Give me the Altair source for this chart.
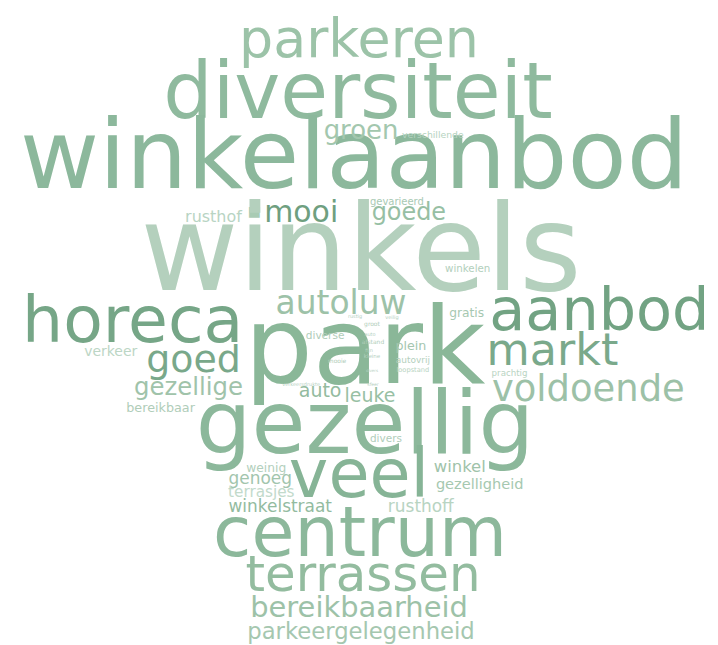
import altair as alt
import pandas as pd

words = ["parkeren", "diversiteit", "winkelaanbod", "groen", "verschillende", "rusthof", "■",
         "mooi", "gevarieerd", "goede", "winkels", "winkelen", "horeca", "autoluw", "park",
         "gratis", "aanbod", "diverse", "plein", "autovrij", "loopstand", "verkeer", "goed",
         "markt", "prachtig", "gezellige", "voldoende", "auto", "leuke", "bereikbaar",
         "gezellig", "divers", "weinig", "veel", "winkel", "genoeg", "gezelligheid",
         "terrasjes", "winkelstraat", "rusthoff", "centrum", "terrassen", "bereikbaarheid",
         "parkeergelegenheid",
         "rustig", "groot", "veilig", "auto", "afstand", "fijn", "kleine", "mooie",
         "sfeer", "verkeersdrukte", "divers"]
x_center = [360, 359, 355, 362, 434, 214, 255,
            302, 398, 410, 362, 469, 133, 342, 366,
            468, 601, 326, 412, 414, 414, 111, 194,
            554, 511, 189, 590, 321, 371, 161,
            366, 387, 267, 360, 461, 261, 481,
            262, 281, 422, 361, 364, 360,
            362,
            356, 373, 393, 371, 374, 370, 373, 338,
            374, 302, 373]
y_base = [56, 117, 188, 138, 137, 222, 216,
          222, 205, 220, 290, 272, 342, 314, 383,
          317, 330, 339, 350, 363, 372, 356, 372,
          365, 376, 395, 401, 397, 402, 412,
          453, 442, 472, 497, 472, 484, 489,
          497, 513, 513, 557, 592, 618,
          640,
          318, 326, 319, 336, 344, 352, 358, 363,
          386, 386, 372]
font_size = [54, 78, 97, 26, 9.3, 16, 14,
             30, 10, 24, 120, 10.3, 65, 33, 108,
             12.3, 59, 10.6, 12.7, 9, 6.7, 14, 38,
             44.5, 8.7, 24.4, 37, 19, 19, 12.8,
             88, 10.5, 12.3, 67, 16.5, 17, 14.6,
             15.3, 17, 17, 70, 50, 29,
             22.8,
             5, 6, 5, 5, 6, 5, 5.5, 6,
             4.5, 5, 4]
colors = ["#9cc3a8", "#8fba9e", "#8cb89c", "#a3c7ae", "#b5d3c0", "#b8d4c3", "#a9cbb4",
          "#6f9f80", "#a8c9b3", "#97bfa4", "#b4d0bd", "#b2cfbc", "#76a687", "#9dc2a8", "#8ab798",
          "#a6c8b1", "#72a383", "#b0cdb9", "#a4c6af", "#b4d0bd", "#b8d4c2", "#bcd6c5", "#79a88a",
          "#7aa98b", "#b8d4c2", "#a0c3aa", "#9cc1a7", "#93bb9f", "#98bfa4", "#b0cdb9",
          "#8cb89b", "#b0cdba", "#b2cfbc", "#86b496", "#9fc3aa", "#a2c5ad", "#a6c8b0",
          "#c2dacb", "#93bb9f", "#b8d4c2", "#8cb89b", "#93bc9f", "#9dc2a8",
          "#a5c7af",
          "#b5d1bf", "#b0cdb9", "#b5d1bf", "#b5d1bf", "#b0cdb9", "#b5d1bf", "#b5d1bf", "#b0cdb9",
          "#b5d1bf", "#b5d1bf", "#b5d1bf"]

df = pd.DataFrame({"word": words, "x": x_center, "y": y_base,
                   "size": font_size, "color": colors})

chart = alt.Chart(df).mark_text(
    font="DejaVu Sans", align="center", baseline="alphabetic"
).encode(
    x=alt.X("x:Q", axis=None, scale=alt.Scale(domain=[8, 710], nice=False, zero=False)),
    y=alt.Y("y:Q", axis=None, scale=alt.Scale(domain=[8, 637], nice=False, zero=False, reverse=True)),
    text="word:N",
    size=alt.Size("size:Q", scale=None),
    color=alt.Color("color:N", scale=None),
).properties(
    width=702, height=629, padding=0
).configure_view(stroke=None)

chart.save("out.html", embed_options={"renderer": "svg", "actions": False})
